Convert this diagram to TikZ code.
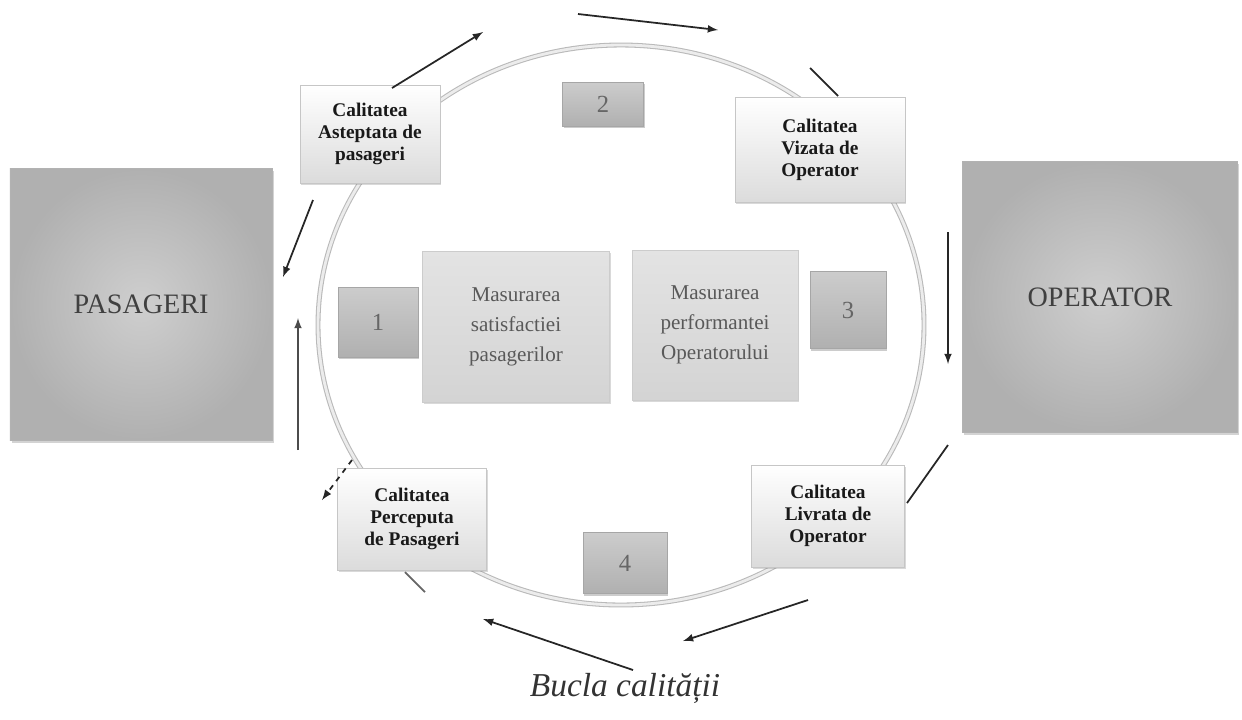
\documentclass[tikz,border=0pt]{standalone}
\usepackage{fontspec}
\setmainfont{Liberation Serif}
\usetikzlibrary{shadows}

\begin{document}
\begin{tikzpicture}[x=0.2mm, y=-0.2mm,
    every node/.append style={inner sep=0pt, align=center},
    party/.style={rectangle, draw=gray!60, inner color=gray!38, outer color=gray!62,
        font=\fontsize{16}{18}\selectfont, text=black!75,
        drop shadow={opacity=0.35, shadow xshift=1pt, shadow yshift=-1.5pt}},
    qual/.style={rectangle, draw=gray!45, top color=white, bottom color=gray!28,
        font=\fontsize{11}{12.5}\selectfont\bfseries, text=black!90,
        drop shadow={opacity=0.3, shadow xshift=0.6pt, shadow yshift=-1pt}},
    meas/.style={rectangle, draw=gray!40, top color=gray!22, bottom color=gray!34,
        font=\fontsize{12}{17}\selectfont, text=black!65,
        drop shadow={opacity=0.3, shadow xshift=0.6pt, shadow yshift=-1pt}},
    num/.style={rectangle, draw=gray!70, top color=gray!40, bottom color=gray!62,
        font=\fontsize{14}{16}\selectfont, text=black!60,
        drop shadow={opacity=0.4, shadow xshift=0.6pt, shadow yshift=-1.2pt}},
    arr/.style={-latex, line width=1pt, draw=black!85},
    ln/.style={line width=1pt, draw=black!85}]
        \useasboundingbox (0,0) rectangle (1242,719);

        % the loop
        \draw [draw=gray!55, line width=0.6pt, double=gray!15, double distance=1.6pt]
            (621,325) ellipse [x radius=303, y radius=280];

        \node [party, minimum width=5.24cm, minimum height=5.44cm] (P) at (141,304) {PASAGERI};
        \node [party, minimum width=5.5cm, minimum height=5.42cm] (O) at (1100,297) {OPERATOR};

        \node [qual, minimum width=2.8cm, minimum height=1.96cm] (Qa) at (370,134) {Calitatea\\Asteptata de\\pasageri};
        \node [qual, minimum width=3.4cm, minimum height=2.1cm] (Qv) at (820,150) {Calitatea\\Vizata de\\Operator};
        \node [qual, minimum width=3.06cm, minimum height=2.04cm] (Ql) at (828,516) {Calitatea\\Livrata de\\Operator};
        \node [qual, minimum width=2.98cm, minimum height=2.04cm] (Qp) at (412,519) {Calitatea\\Perceputa\\de Pasageri};

        \node [meas, minimum width=3.74cm, minimum height=3.02cm] (Ms) at (516,327) {Masurarea\\satisfactiei\\pasagerilor};
        \node [meas, minimum width=3.32cm, minimum height=3.0cm] (Mp) at (715,325) {Masurarea\\performantei\\Operatorului};

        \node [num, minimum width=1.6cm, minimum height=1.4cm] (N1) at (378,322) {1};
        \node [num, minimum width=1.62cm, minimum height=0.88cm] (N2) at (603,104) {2};
        \node [num, minimum width=1.52cm, minimum height=1.54cm] (N3) at (848,310) {3};
        \node [num, minimum width=1.68cm, minimum height=1.22cm] (N4) at (625,563) {4};

        % arrow ends round the loop
        \coordinate (a1) at (392,88);  \coordinate (b1) at (483,32);
        \coordinate (a2) at (578,14);  \coordinate (b2) at (718,30);
        \coordinate (a3) at (810,68);  \coordinate (b3) at (838,96);
        \coordinate (a4) at (948,232); \coordinate (b4) at (948,364);
        \coordinate (a5) at (948,445); \coordinate (b5) at (907,503);
        \coordinate (a6) at (808,600); \coordinate (b6) at (683,641);
        \coordinate (a7) at (633,670); \coordinate (b7) at (483,619);
        \coordinate (a8) at (405,572); \coordinate (b8) at (425,592);
        \coordinate (a9) at (352,460); \coordinate (b9) at (322,500);
        \coordinate (a10) at (298,450); \coordinate (b10) at (298,318);
        \coordinate (a11) at (313,200); \coordinate (b11) at (283,277);

        \draw [arr] (a1) -- (b1);
        \draw [arr] (a2) -- (b2);
        \draw [ln] (a3) -- (b3);
        \draw [arr] (a4) -- (b4);
        \draw [ln] (a5) -- (b5);
        \draw [arr] (a6) -- (b6);
        \draw [arr] (a7) -- (b7);
        \draw [ln, draw=black!60] (a8) -- (b8);
        \draw [arr, dashed] (a9) -- (b9);
        \draw [arr, draw=black!70] (a10) -- (b10);
        \draw [arr] (a11) -- (b11);

        \node [font=\fontsize{19}{22}\selectfont\itshape, text=black!80] (T) at (625,688) {Bucla calității};
    \end{tikzpicture}
\end{document}
